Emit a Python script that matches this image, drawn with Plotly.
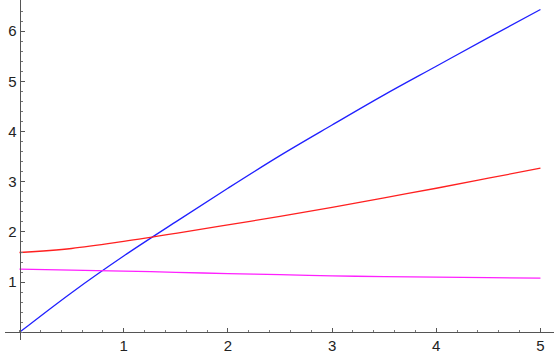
import plotly.graph_objects as go

# values
x_vals = [0, 0.5, 1, 1.5, 2, 2.5, 3, 3.5, 4, 4.5, 5]
blue_vals = [0, 0.79, 1.52, 2.20, 2.87, 3.52, 4.13, 4.73, 5.30, 5.87, 6.43]
red_vals = [1.59, 1.67, 1.81, 1.97, 2.14, 2.31, 2.49, 2.68, 2.87, 3.07, 3.27]
magenta_vals = [1.26, 1.24, 1.22, 1.195, 1.17, 1.15, 1.125, 1.11, 1.10, 1.09, 1.08]

x_ticks = [1, 2, 3, 4, 5]
y_ticks = [1, 2, 3, 4, 5, 6]

W, H = 554, 358

fig = go.Figure()
for ys, col in [(blue_vals, "#2020ff"), (red_vals, "#ff2020"), (magenta_vals, "#ff20ff")]:
    fig.add_trace(go.Scatter(
        x=x_vals, y=ys, mode="lines",
        line=dict(color=col, width=1.3, shape="spline"),
        hoverinfo="skip", showlegend=False,
    ))

axis_common = dict(
    showgrid=False, zeroline=False, showline=True,
    linecolor="#555", linewidth=1,
    ticks="inside", ticklen=4, tickcolor="#555", tickwidth=1,
    tickfont=dict(family="Liberation Sans, Arial", size=15, color="#222"),
    automargin=False, anchor="free",
    minor=dict(dtick=0.2, ticks="inside", ticklen=2.5, tickcolor="#777"),
)

fig.update_layout(
    template="none",
    width=W, height=H,
    margin=dict(l=0, r=0, t=0, b=0),
    paper_bgcolor="white", plot_bgcolor="white",
    xaxis=dict(axis_common, range=[-0.139, 5.13], domain=[5 / W, 1],
               tickvals=x_ticks, position=(H - 332.3) / H),
    yaxis=dict(axis_common, range=[-0.153, 6.62], domain=[(H - 340) / H, 1],
               tickvals=y_ticks, position=19.5 / W),
)

# drop the default 8px page margin so the figure sits at the window corner
fig.write_html("out.html", config={"displayModeBar": False},
               post_script="document.body.style.margin='0';")
